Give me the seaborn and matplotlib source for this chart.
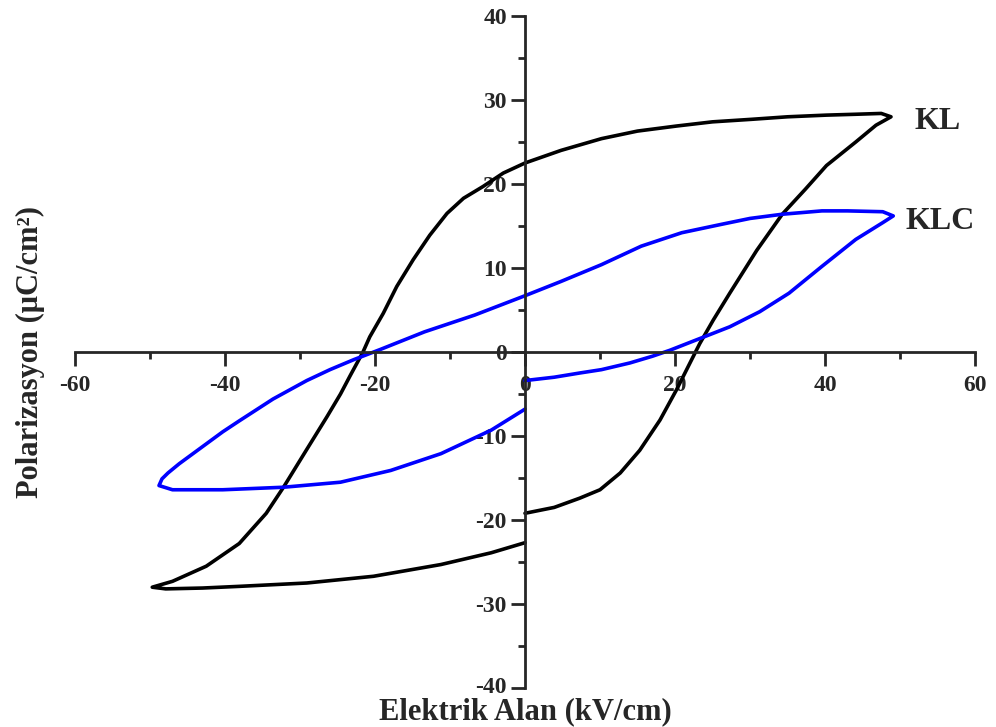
import numpy as np
import pandas as pd
import matplotlib
matplotlib.use("Agg")
import matplotlib.pyplot as plt
import matplotlib.transforms as mtransforms
from matplotlib.ticker import MultipleLocator
import seaborn as sns

# P-E hysteresis loops (field in kV/cm, polarization in uC/cm^2)
kl_field = [0.0, 3.9, 7.3, 10.0, 12.7, 15.3, 18.0, 20.2, 22.0, 23.3, 25.1, 27.3,
            30.9, 34.3, 37.4, 40.2, 44.1, 46.8, 48.8,
            47.5, 44.0, 40.2, 35.0, 30.2, 25.0, 20.2, 15.0, 10.2, 4.8, 0.0,
            -2.9, -5.6, -8.2, -10.4, -12.7, -14.9, -17.1, -18.9, -20.7, -21.6,
            -23.3, -24.6, -26.4, -29.1, -32.2, -34.5, -38.1, -42.5, -47.0, -49.7,
            -47.9, -43.0, -38.1, -29.1, -20.2, -11.2, -4.5, 0.0]
kl_pol = [-19.2, -18.5, -17.4, -16.4, -14.4, -11.7, -8.1, -4.5, -1.3, 1.0, 3.8, 7.0,
          12.1, 16.4, 19.4, 22.2, 25.0, 27.0, 28.0,
          28.4, 28.3, 28.2, 28.0, 27.7, 27.4, 26.9, 26.3, 25.4, 24.0, 22.5,
          21.3, 19.7, 18.3, 16.5, 13.9, 11.0, 7.8, 4.6, 1.8, 0.0,
          -2.8, -5.0, -7.7, -11.6, -16.1, -19.2, -22.8, -25.5, -27.3, -28.0,
          -28.2, -28.1, -27.9, -27.5, -26.7, -25.3, -23.9, -22.7]

klc_field = [0.0, 3.9, 7.3, 10.2, 14.0, 17.0, 19.3, 23.3, 27.3, 31.3, 35.2, 39.6,
             44.1, 47.7, 49.1,
             47.7, 43.0, 39.6, 34.3, 30.0, 26.2, 20.9, 15.5, 10.2, 4.8, 0.0,
             -6.7, -13.4, -19.3, -22.8, -26.0, -29.1, -33.6, -38.1, -40.3, -43.2,
             -46.1, -47.6, -48.4, -48.8,
             -47.0, -40.3, -32.2, -24.6, -17.9, -11.2, -4.5, 0.0]
klc_pol = [-3.4, -3.0, -2.5, -2.1, -1.3, -0.5, 0.2, 1.6, 3.0, 4.8, 7.0, 10.2,
           13.4, 15.4, 16.2,
           16.7, 16.8, 16.8, 16.4, 15.9, 15.2, 14.2, 12.6, 10.4, 8.4, 6.7,
           4.4, 2.4, 0.3, -0.9, -2.1, -3.4, -5.6, -8.2, -9.5, -11.4,
           -13.3, -14.4, -15.1, -15.9,
           -16.4, -16.4, -16.1, -15.5, -14.1, -12.1, -9.3, -6.8]

series_names = ["KL", "KLC"]
series_colors = ["#000000", "#0000ff"]
label_pos = [(55.0, 27.4), (55.3, 15.5)]

x_ticks = [-60, -40, -20, 0, 20, 40, 60]
y_ticks = [-40, -30, -20, -10, 0, 10, 20, 30, 40]

sns.set_style("ticks")
plt.rcParams["font.family"] = ["Liberation Serif", "DejaVu Serif"]
plt.rcParams["font.weight"] = "bold"

fig = plt.figure(figsize=(9.96, 7.27), dpi=100)
ax = fig.add_axes([75 / 996, 1 - 688 / 727, 900 / 996, 672 / 727])

frames = [
    pd.DataFrame({"E": kl_field, "P": kl_pol, "sample": "KL"}),
    pd.DataFrame({"E": klc_field, "P": klc_pol, "sample": "KLC"}),
]
for df, color in zip(frames, series_colors):
    sns.lineplot(data=df, x="E", y="P", sort=False, estimator=None, ax=ax,
                 color=color, linewidth=2.6, solid_joinstyle="round",
                 solid_capstyle="round", legend=False)

for name, (lx, ly) in zip(series_names, label_pos):
    ax.text(lx, ly, name, fontsize=23, fontweight="bold", ha="center",
            va="center")

ax.set_xlim(-60, 60)
ax.set_ylim(-40, 40)
ax.spines["left"].set_position(("data", 0))
ax.spines["bottom"].set_position(("data", 0))
ax.spines["top"].set_visible(False)
ax.spines["right"].set_visible(False)
for side in ("left", "bottom"):
    ax.spines[side].set_linewidth(2.0)

ax.set_xticks(x_ticks)
ax.set_yticks(y_ticks)
ax.set_xticklabels([str(v) for v in x_ticks])
ax.set_yticklabels([str(v) for v in y_ticks])
ax.xaxis.set_minor_locator(MultipleLocator(10))
ax.yaxis.set_minor_locator(MultipleLocator(5))
ax.tick_params(which="major", direction="out", length=10, width=2.0,
               labelsize=17)
ax.tick_params(axis="y", which="major", pad=3)
ax.tick_params(axis="x", which="major", pad=6.5)
ax.tick_params(which="minor", direction="out", length=5, width=2.0)
for lab in ax.get_xticklabels() + ax.get_yticklabels():
    lab.set_fontweight("bold")

# lift the lowest y tick label a little so it clears the axis title
yticks_major = ax.yaxis.get_major_ticks()
lift = mtransforms.ScaledTranslation(0, 3 / 100, fig.dpi_scale_trans)
yticks_major[0].label1.set_transform(yticks_major[0].label1.get_transform() + lift)

ax.set_xlabel("")
ax.set_ylabel("")
fig.text(525 / 996, 1 - 712 / 727, "Elektrik Alan (kV/cm)", fontsize=22,
         fontweight="bold", ha="center", va="center")
fig.text(30 / 996, 1 - 352 / 727, "Polarizasyon (μC/cm²)", fontsize=22,
         fontweight="bold", ha="center", va="center", rotation=90)

fig.savefig("out.png", dpi=100)
